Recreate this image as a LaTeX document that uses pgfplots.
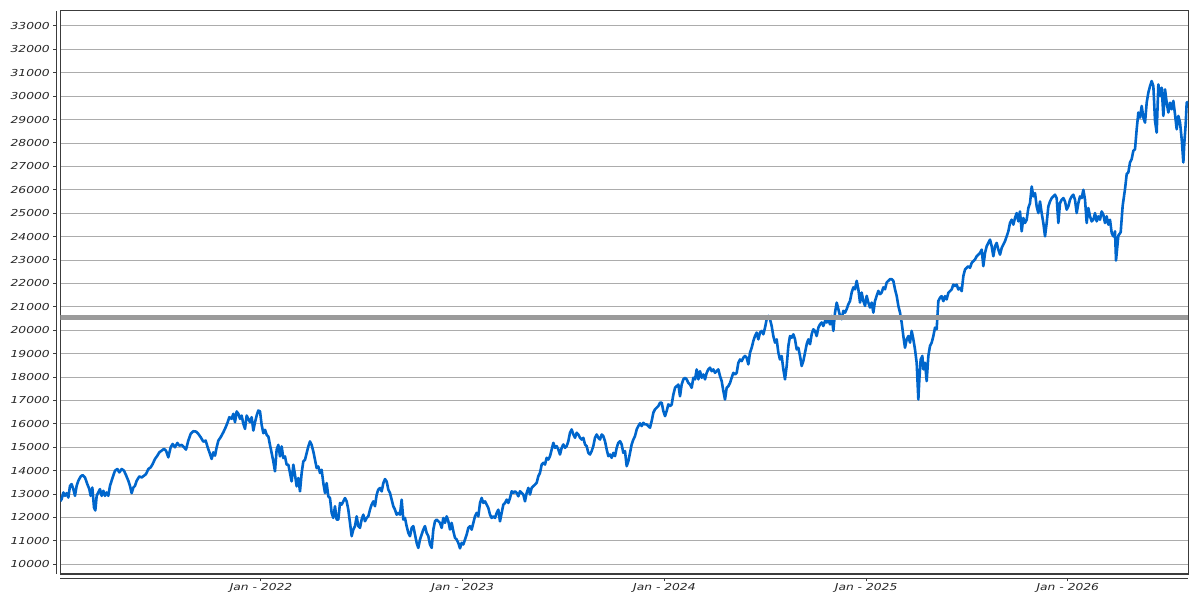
\documentclass[border=0pt]{standalone}
\usepackage{fontspec}
\setmainfont{DejaVu Sans}[FakeStretch=1.28]
\usepackage{pgfplots}
\pgfplotsset{compat=1.18}
\usepackage{pgfplotstable}
\definecolor{serie}{RGB}{0,102,204}
\definecolor{band}{RGB}{155,155,155}
\definecolor{gridc}{RGB}{172,172,172}
\definecolor{framec}{RGB}{60,60,60}
\pgfplotstableread{
t v
2021.0050 12700
2021.0118 12782
2021.0200 13068
2021.0283 12925
2021.0366 13040
2021.0448 12853
2021.0531 13350
2021.0613 13425
2021.0696 13210
2021.0779 12925
2021.0861 13350
2021.0944 13568
2021.1060 13754
2021.1159 13810
2021.1274 13710
2021.1390 13425
2021.1489 13210
2021.1555 12925
2021.1638 13280
2021.1721 12424
2021.1787 12300
2021.1853 12925
2021.1935 13068
2021.2018 13210
2021.2101 12925
2021.2183 13140
2021.2266 12925
2021.2349 13068
2021.2431 12925
2021.2514 13350
2021.2646 13710
2021.2762 14000
2021.2877 14070
2021.2977 13925
2021.3092 14070
2021.3208 14000
2021.3307 13810
2021.3423 13568
2021.3505 13350
2021.3588 13040
2021.3671 13280
2021.3753 13350
2021.3836 13568
2021.3968 13754
2021.4084 13710
2021.4200 13783
2021.4299 13854
2021.4414 14070
2021.4530 14140
2021.4629 14283
2021.4745 14500
2021.4861 14640
2021.4960 14783
2021.5075 14855
2021.5191 14930
2021.5290 14855
2021.5406 14570
2021.5522 15000
2021.5621 15140
2021.5736 15000
2021.5852 15185
2021.5951 15070
2021.6067 15100
2021.6183 15000
2021.6282 14900
2021.6397 15285
2021.6513 15570
2021.6645 15685
2021.6778 15670
2021.6893 15570
2021.7009 15430
2021.7141 15240
2021.7257 15285
2021.7356 15000
2021.7472 14710
2021.7554 14500
2021.7637 14783
2021.7720 14640
2021.7802 15000
2021.7885 15285
2021.8001 15430
2021.8133 15640
2021.8249 15855
2021.8348 16070
2021.8430 16285
2021.8546 16215
2021.8629 16430
2021.8711 16070
2021.8794 16530
2021.8877 16430
2021.8959 16215
2021.9042 16355
2021.9124 16000
2021.9207 15785
2021.9290 16355
2021.9372 16215
2021.9455 16070
2021.9538 16285
2021.9620 15715
2021.9703 16070
2021.9786 16355
2021.9868 16570
2021.9951 16530
2022.0033 15957
2022.0116 15600
2022.0198 15745
2022.0281 15530
2022.0364 15460
2022.0446 15100
2022.0529 14750
2022.0611 14395
2022.0694 13970
2022.0776 14890
2022.0859 15100
2022.0942 14610
2022.1024 15035
2022.1107 14540
2022.1189 14610
2022.1272 14255
2022.1355 14255
2022.1437 13900
2022.1520 13540
2022.1603 14255
2022.1685 13830
2022.1768 13330
2022.1850 13685
2022.1933 13115
2022.2016 13900
2022.2098 14395
2022.2181 14465
2022.2264 14750
2022.2346 15035
2022.2429 15250
2022.2512 15100
2022.2594 14820
2022.2677 14465
2022.2759 14110
2022.2842 14180
2022.2925 13900
2022.3007 14040
2022.3090 13470
2022.3173 13045
2022.3255 13470
2022.3338 12900
2022.3420 12830
2022.3503 12195
2022.3586 11980
2022.3668 12480
2022.3751 11910
2022.3834 11910
2022.3916 12620
2022.3999 12550
2022.4082 12690
2022.4164 12830
2022.4247 12690
2022.4329 12335
2022.4412 11770
2022.4495 11200
2022.4577 11485
2022.4660 11630
2022.4743 12050
2022.4825 11630
2022.4908 11555
2022.4990 11910
2022.5073 12120
2022.5156 11840
2022.5238 11980
2022.5321 12050
2022.5404 12335
2022.5486 12550
2022.5569 12690
2022.5651 12480
2022.5734 12975
2022.5817 13190
2022.5899 13260
2022.5982 13115
2022.6065 13470
2022.6147 13640
2022.6230 13540
2022.6312 13190
2022.6395 13045
2022.6478 12760
2022.6560 12480
2022.6643 12335
2022.6726 12120
2022.6808 12195
2022.6891 12120
2022.6974 12760
2022.7056 11910
2022.7139 11980
2022.7221 11630
2022.7304 11340
2022.7387 11200
2022.7469 11555
2022.7552 11630
2022.7635 11270
2022.7717 10915
2022.7800 10700
2022.7882 11060
2022.7965 11270
2022.8048 11485
2022.8130 11630
2022.8213 11340
2022.8296 11200
2022.8378 10845
2022.8461 10700
2022.8544 11485
2022.8626 11840
2022.8709 11910
2022.8791 11840
2022.8874 11770
2022.8957 11555
2022.9039 11980
2022.9122 11770
2022.9205 12050
2022.9287 11840
2022.9370 11485
2022.9452 11770
2022.9535 11415
2022.9618 11130
2022.9700 11060
2022.9783 10915
2022.9866 10680
2022.9948 10915
2023.0031 10845
2023.0114 11060
2023.0196 11270
2023.0279 11555
2023.0362 11630
2023.0445 11480
2023.0527 11765
2023.0610 12050
2023.0693 12195
2023.0775 12050
2023.0858 12620
2023.0940 12835
2023.1023 12620
2023.1106 12690
2023.1188 12550
2023.1271 12405
2023.1354 12120
2023.1436 11980
2023.1519 12050
2023.1601 11980
2023.1684 12195
2023.1767 12335
2023.1849 11835
2023.1932 12195
2023.2015 12550
2023.2097 12620
2023.2180 12765
2023.2262 12620
2023.2345 12835
2023.2428 13120
2023.2510 13050
2023.2593 13120
2023.2676 13050
2023.2758 12905
2023.2841 13120
2023.2924 13050
2023.3006 12980
2023.3089 12690
2023.3171 13050
2023.3254 13265
2023.3337 12980
2023.3419 13265
2023.3502 13335
2023.3585 13405
2023.3667 13480
2023.3750 13765
2023.3832 13905
2023.3915 14260
2023.3998 14335
2023.4080 14260
2023.4163 14550
2023.4246 14475
2023.4328 14620
2023.4411 14905
2023.4494 15190
2023.4576 14975
2023.4659 15050
2023.4741 14905
2023.4824 14690
2023.4907 14975
2023.4989 15120
2023.5072 14975
2023.5155 15050
2023.5237 15260
2023.5320 15620
2023.5402 15760
2023.5485 15545
2023.5568 15405
2023.5650 15620
2023.5733 15545
2023.5816 15405
2023.5898 15330
2023.5981 15405
2023.6064 15120
2023.6146 15050
2023.6229 14760
2023.6311 14690
2023.6394 14835
2023.6477 15050
2023.6559 15405
2023.6642 15545
2023.6725 15405
2023.6807 15330
2023.6890 15545
2023.6972 15475
2023.7055 15260
2023.7138 14905
2023.7220 14620
2023.7303 14690
2023.7386 14550
2023.7468 14760
2023.7551 14620
2023.7634 14975
2023.7716 15190
2023.7799 15260
2023.7881 15120
2023.7964 14760
2023.8047 14835
2023.8129 14190
2023.8212 14405
2023.8295 14760
2023.8377 15120
2023.8460 15330
2023.8542 15475
2023.8625 15760
2023.8708 15905
2023.8790 16020
2023.8873 15905
2023.8956 16045
2023.9038 15975
2023.9121 15975
2023.9203 15905
2023.9286 15835
2023.9369 16120
2023.9451 16475
2023.9534 16620
2023.9617 16690
2023.9699 16760
2023.9782 16905
2023.9865 16905
2023.9947 16545
2024.0030 16330
2024.0112 16545
2024.0195 16830
2024.0278 16760
2024.0360 16820
2024.0443 17250
2024.0526 17540
2024.0608 17610
2024.0691 17680
2024.0774 17180
2024.0856 17680
2024.0939 17900
2024.1021 17970
2024.1104 17900
2024.1187 17750
2024.1269 17680
2024.1352 17540
2024.1435 17970
2024.1517 17900
2024.1600 18325
2024.1683 17900
2024.1765 18250
2024.1848 17970
2024.1930 18110
2024.2013 17900
2024.2096 18180
2024.2178 18325
2024.2261 18400
2024.2344 18250
2024.2426 18325
2024.2509 18180
2024.2591 18250
2024.2674 18325
2024.2757 18040
2024.2839 17825
2024.2922 17400
2024.3005 17040
2024.3087 17540
2024.3170 17610
2024.3253 17750
2024.3335 17970
2024.3418 18180
2024.3500 18110
2024.3583 18180
2024.3666 18610
2024.3748 18750
2024.3831 18680
2024.3914 18825
2024.3996 18900
2024.4079 18825
2024.4162 18540
2024.4244 19040
2024.4327 19250
2024.4409 19540
2024.4492 19750
2024.4575 19900
2024.4657 19610
2024.4740 19900
2024.4823 19970
2024.4905 19825
2024.4988 20110
2024.5070 20470
2024.5153 20610
2024.5236 20470
2024.5318 20180
2024.5401 19750
2024.5484 19470
2024.5566 19610
2024.5649 19040
2024.5731 18750
2024.5814 18900
2024.5897 18325
2024.5979 17900
2024.6062 18470
2024.6145 19325
2024.6227 19750
2024.6310 19680
2024.6393 19825
2024.6475 19610
2024.6558 19180
2024.6640 19250
2024.6723 18900
2024.6806 18470
2024.6888 18680
2024.6971 19040
2024.7054 19400
2024.7136 19610
2024.7219 19400
2024.7301 19825
2024.7384 20040
2024.7467 19970
2024.7549 19750
2024.7632 20110
2024.7715 20250
2024.7797 20330
2024.7880 20180
2024.7963 20400
2024.8045 20330
2024.8128 20470
2024.8210 20250
2024.8293 20610
2024.8376 19970
2024.8458 20750
2024.8541 21180
2024.8624 20900
2024.8706 20610
2024.8789 20470
2024.8872 20830
2024.8954 20750
2024.9037 20900
2024.9119 21110
2024.9202 21250
2024.9285 21610
2024.9367 21830
2024.9450 21750
2024.9533 22110
2024.9615 21750
2024.9698 21180
2024.9780 21610
2024.9863 21250
2024.9946 21040
2025.0028 21470
2025.0111 21180
2025.0193 20970
2025.0276 21180
2025.0359 20750
2025.0441 21250
2025.0524 21470
2025.0606 21680
2025.0689 21540
2025.0772 21610
2025.0854 21830
2025.0937 21750
2025.1020 22040
2025.1102 22110
2025.1185 22180
2025.1267 22180
2025.1350 22110
2025.1433 21750
2025.1515 21470
2025.1598 21040
2025.1681 20750
2025.1763 20330
2025.1846 19750
2025.1928 19250
2025.2011 19610
2025.2094 19750
2025.2176 19470
2025.2259 19970
2025.2342 19610
2025.2424 19180
2025.2507 18610
2025.2590 17040
2025.2639 17900
2025.2705 18750
2025.2788 18900
2025.2837 18325
2025.2920 18610
2025.3003 17825
2025.3085 18900
2025.3168 19325
2025.3251 19470
2025.3333 19750
2025.3416 20110
2025.3498 20040
2025.3581 21250
2025.3664 21385
2025.3746 21455
2025.3829 21240
2025.3912 21455
2025.3994 21315
2025.4077 21600
2025.4160 21670
2025.4242 21740
2025.4325 21950
2025.4407 21880
2025.4490 21950
2025.4573 21740
2025.4655 21810
2025.4738 21670
2025.4821 22310
2025.4903 22590
2025.4986 22665
2025.5069 22735
2025.5151 22665
2025.5234 22875
2025.5316 22950
2025.5399 23020
2025.5482 23160
2025.5564 23230
2025.5647 23300
2025.5730 23445
2025.5812 22735
2025.5895 23300
2025.5977 23585
2025.6060 23730
2025.6143 23870
2025.6225 23585
2025.6308 23160
2025.6391 23585
2025.6473 23730
2025.6556 23445
2025.6639 23230
2025.6721 23515
2025.6804 23660
2025.6886 23800
2025.6969 24010
2025.7052 24225
2025.7134 24580
2025.7217 24720
2025.7300 24510
2025.7382 24795
2025.7465 25005
2025.7548 24650
2025.7630 25075
2025.7713 24225
2025.7795 24795
2025.7878 24580
2025.7961 24720
2025.8043 25220
2025.8126 25430
2025.8209 26140
2025.8291 25715
2025.8374 25860
2025.8456 25290
2025.8539 25005
2025.8622 25500
2025.8704 25005
2025.8787 24580
2025.8870 24010
2025.8952 24580
2025.9035 25290
2025.9117 25500
2025.9200 25645
2025.9283 25715
2025.9365 25790
2025.9448 25645
2025.9531 24580
2025.9613 25430
2025.9696 25575
2025.9779 25645
2025.9861 25500
2025.9944 25150
2026.0026 25290
2026.0109 25575
2026.0192 25715
2026.0274 25790
2026.0357 25575
2026.0440 25005
2026.0522 25430
2026.0605 25715
2026.0687 25645
2026.0770 26000
2026.0853 25575
2026.0935 24580
2026.1018 25220
2026.1101 24865
2026.1183 24650
2026.1266 24720
2026.1349 25005
2026.1431 24650
2026.1514 24865
2026.1596 24720
2026.1679 25075
2026.1762 24935
2026.1844 24580
2026.1927 24865
2026.2010 24510
2026.2092 24720
2026.2175 24155
2026.2257 24010
2026.2340 24225
2026.2390 22980
2026.2505 24040
2026.2621 24185
2026.2720 25320
2026.2836 26030
2026.2919 26670
2026.3001 26740
2026.3084 27170
2026.3167 27310
2026.3249 27665
2026.3332 27735
2026.3415 28590
2026.3497 29300
2026.3580 29085
2026.3663 29580
2026.3745 29085
2026.3828 28870
2026.3910 29720
2026.3993 30150
2026.4076 30430
2026.4158 30645
2026.4241 30430
2026.4324 28940
2026.4406 28440
2026.4489 30500
2026.4571 30005
2026.4654 30360
2026.4737 29155
2026.4819 30290
2026.4902 29720
2026.4985 29300
2026.5067 29720
2026.5150 29440
2026.5232 29795
2026.5315 29225
2026.5398 28585
2026.5480 29155
2026.5563 28870
2026.5646 28160
2026.5728 27165
2026.5778 28020
2026.5844 28800
2026.5893 29720
2026.5960 29760
}\series
\begin{document}
\begin{tikzpicture}
\begin{axis}[
  scale only axis, width=1128pt, height=563.3pt,
  xmin=2021.005, xmax=2026.5974, ymin=9585, ymax=33650,
  axis line style={draw=framec, line width=1.2pt},
  xtick={2022,2023,2024,2025,2026},
  xticklabels={Jan - 2022, Jan - 2023, Jan - 2024, Jan - 2025, Jan - 2026},
  ytick={10000,11000,...,33000},
  ymajorgrids, grid style={gridc, line width=0.9pt},
  tick pos=left, tick align=outside, major tick length=3pt,
  xtick style={yshift=-4.3pt, draw=framec, line width=1pt},
  ytick style={xshift=-4pt, draw=framec, line width=1pt},
  tick label style={font=\fontsize{9.6pt}{11pt}\selectfont\itshape, text=black!85},
  yticklabel style={xshift=-4pt},
  xticklabel style={yshift=-3pt},
  scaled y ticks=false,
  /pgf/number format/1000 sep={},
  /pgf/number format/assume math mode=true,
]
\addplot[serie, line width=2.6pt, line join=round, no markers] table[x=t, y=v] {\series};
\addplot[band, line width=4.5pt, no markers, forget plot] coordinates {(2021.005,20540) (2026.5974,20540)};
\coordinate (SW) at (rel axis cs:0,0);
\coordinate (NE) at (rel axis cs:1,1);
\end{axis}
\draw[framec, line width=1.2pt] ([xshift=-4pt]SW) -- ([xshift=-4pt]SW |- NE);
\draw[framec, line width=1.2pt] ([yshift=-4.3pt]SW) -- ([yshift=-4.3pt]NE |- SW);
\pgfresetboundingbox
\path ([xshift=-60.3pt,yshift=-26pt]SW) rectangle ([xshift=11.7pt,yshift=10.7pt]NE);
\end{tikzpicture}
\end{document}
